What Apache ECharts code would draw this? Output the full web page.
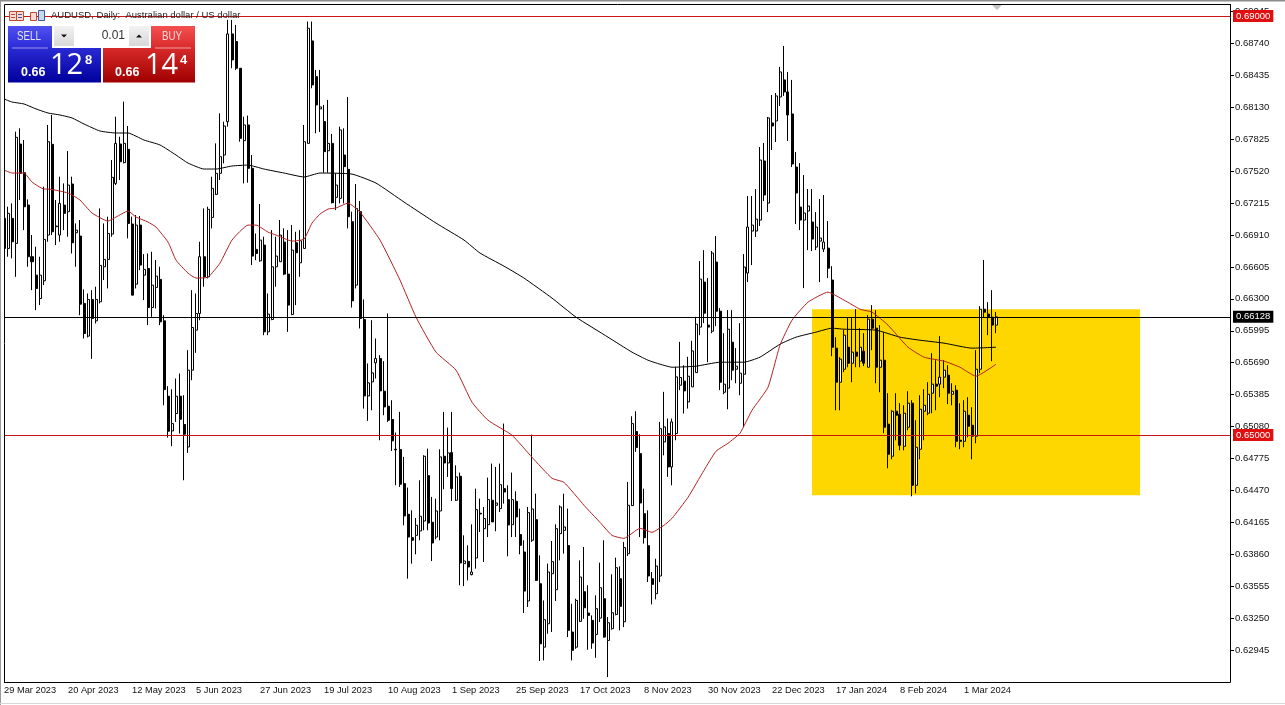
<!DOCTYPE html>
<html>
<head>
<meta charset="utf-8">
<title>AUDUSD Daily</title>
<script src="https://cdn.jsdelivr.net/npm/echarts@6/dist/echarts.min.js"></script>
<style>
html, body { margin: 0; padding: 0; background: #fff; overflow: hidden; }
#chartmain { width: 1285px; height: 705px; }
</style>
</head>
<body>
<div id="chartmain"></div>
<script>
// prices are kept in points, 1 point = 0.00001
var opens = [
	67068,66781,67068,66829,67778,67504,67195,66702,66526,66303,
	66472,66909,67775,66988,66909,67195,67132,67396,66931,66899,
	66256,65944,66294,66090,66272,66606,66676,66918,67402,67778,
	67600,67727,67014,66440,67004,66526,66590,66217,66409,66485,
	66090,65370,65039,65205,65370,65100,64886,65619,66001,66160,
	66702,66510,67077,67297,67498,67673,67991,68829,68756,68501,
	67810,67960,67546,66772,66663,66813,65985,66103,66606,66654,
	66842,66536,66151,66835,66644,66781,67784,68762,68421,68113,
	67992,67714,67784,67269,67259,67673,67536,67036,66431,67132,
	66103,65373,65507,65689,65730,65418,65275,65148,64864,64861,
	64536,64243,64020,64042,64084,64179,64612,64167,64026,64275,
	64797,64733,64832,64377,64606,63772,63794,63667,63826,64253,
	64106,64144,64377,64329,64297,64488,64383,64144,64367,64049,
	63883,63415,63995,64192,63580,62975,63198,63676,63523,64058,
	64090,63944,63119,62975,63221,63504,63300,63230,63096,63252,
	63437,63039,63151,63287,63628,63217,63867,64326,65033,64822,
	64249,63943,63628,63485,63654,64934,65014,64695,65014,65475,
	65514,65316,65459,65596,66030,66460,66049,65991,66651,66182,
	65408,65447,65886,65628,65494,65580,66546,66947,66947,67052,
	67616,67214,67979,67998,68227,68390,68275,68065,67558,67176,
	67052,67138,67033,66794,66851,66775,66784,66479,65829,65504,
	65628,65838,65685,65791,65705,65800,65647,66106,66020,65647,
	65714,65103,64797,65227,65198,64892,65074,65304,64520,64864,
	65227,65208,65399,65485,65485,65552,65571,65389,65428,64950,
	64940,65189,65093,64988,65628,66201,66154,66125,66049
];
var closes = [
	66781,67116,66845,67842,67498,67179,66702,66654,66399,66526,
	66867,67800,66940,66995,67211,67116,67386,66835,66956,66249,
	65969,66294,66112,66294,66619,66676,66924,67460,67784,67609,
	67784,67020,66335,67004,66622,66581,66217,66431,66517,66080,
	65434,65036,65109,65370,65150,65007,65619,66026,66160,66702,
	66510,67154,67355,67498,67657,67950,68829,68581,68501,67832,
	67960,67546,66708,66733,66861,65985,66154,66606,66708,66909,
	66536,66240,66765,66740,66854,67800,68883,68342,68151,68132,
	67705,67784,67218,67386,67912,67562,67084,66281,67163,66112,
	65373,65498,65593,65730,65421,65268,65141,64944,64858,64530,
	64227,64026,63995,64138,64224,64797,64160,63969,64275,64791,
	64733,64829,64488,64600,63778,63797,63740,63692,64288,64246,
	64202,64383,64170,64351,64526,64456,64141,64383,64218,63947,
	63510,64259,64294,63612,63007,63237,63692,63791,64106,64313,
	64122,63135,62944,63421,63644,63351,63278,63014,63342,63542,
	63071,63208,63303,63733,63364,63925,64329,65109,64880,64351,
	64020,63654,63574,63749,65061,65077,64695,65125,65555,65549,
	65421,65561,65803,66058,66488,66163,66030,66737,66182,65504,
	65485,66010,65619,65657,65590,66603,66985,67004,67061,67625,
	67291,68027,67950,68237,68466,68275,68055,67587,67310,67052,
	67119,67186,66870,66985,66880,66842,66593,65838,65504,65724,
	65953,65685,65791,65752,65838,65685,66106,66020,65647,65714,
	65074,64816,65227,65189,64902,65208,65304,64520,64883,65246,
	65284,65389,65485,65466,65552,65619,65399,65418,64940,64940,
	65227,65084,64988,65628,66201,66173,66125,66049,66128
];
var lows = [
	66717,66702,66686,66510,67243,66956,66606,66383,66192,66240,
	66431,66845,66909,66813,66845,66956,66893,66733,66606,66144,
	65921,65931,65727,66065,66256,66479,66399,66893,67386,67434,
	67593,66877,66335,66399,66574,66288,66049,66128,66208,66049,
	65284,64975,64893,65125,65014,64568,64829,65523,65784,66096,
	66415,66495,66972,67291,67434,67593,67944,68501,68485,67800,
	67402,67409,66622,66670,66654,65953,65953,66096,66415,66654,
	66526,65985,66144,66240,66510,66781,67784,68310,67880,67893,
	67504,67504,67211,67148,67211,67211,66972,66217,66399,66017,
	65252,65135,65236,65539,64950,65189,65125,64848,64520,64504,
	64138,63628,63772,63861,63995,64090,64090,63797,64004,63995,
	64482,64600,64370,64370,63565,63558,63612,63660,63724,64074,
	63788,64026,64170,64081,64265,64345,63842,64026,64026,63861,
	63300,63358,63979,63606,62842,62848,63103,63119,63415,63803,
	63867,63071,62848,62959,63214,63246,62950,62959,62873,63214,
	63065,62689,63141,63278,63135,63166,63845,64323,64839,64026,
	63963,63596,63383,63431,63596,64806,64600,64520,64950,65428,
	65205,65252,65459,65596,65953,66068,65695,65972,66039,65428,
	65389,65246,65523,65494,65380,65074,66460,66622,66890,66995,
	67233,67128,67721,67797,68141,68237,67807,67558,67014,66956,
	66402,66765,66756,66765,66460,66746,66498,65752,65236,65236,
	65600,65647,65504,65647,65647,65657,65647,65810,65494,65408,
	65017,64682,64768,64950,64854,64854,65045,64415,64443,64768,
	64950,65189,65208,65236,65361,65447,65294,65284,64883,64864,
	64883,64978,64768,64921,65590,66125,65953,65705,65972
];
var highs = [
	67179,67179,67211,67896,67928,67816,67249,66909,66797,66702,
	67370,67960,68055,67243,67466,67402,67711,67466,67020,67052,
	66390,66351,66383,66415,67163,67020,67084,67625,68039,67848,
	68183,67950,67084,67100,67090,66727,66733,66749,66670,66606,
	66144,65466,65437,65539,65587,65380,65810,66383,66351,66845,
	67163,67179,67466,67784,68071,67991,68963,68963,68915,68501,
	68039,68049,67673,66924,67205,66893,66351,66956,66893,67052,
	66972,66956,67004,66940,66956,67960,68947,68947,68485,68485,
	68151,68199,67874,67498,67944,67928,68227,67132,67396,67234,
	66294,65683,66096,65921,65762,65705,66160,65332,65023,65221,
	64791,64498,64281,64208,64568,64807,64870,64409,64393,64864,
	65221,65071,65221,64711,64641,64042,63947,64147,64488,64393,
	64313,64593,64727,64695,64727,65109,64520,64641,64463,64297,
	63995,64313,65004,64440,63851,63421,63772,63988,64147,64329,
	64440,64297,63389,63437,63803,63931,63565,63278,63469,63781,
	63995,63262,63670,63829,63746,63979,64552,65179,65227,65007,
	64488,64281,63692,63819,65125,65412,65157,65157,65650,65889,
	65666,65746,65899,66128,66660,66765,66498,66756,66899,66211,
	65972,66192,66192,65829,66068,66727,67281,67281,67348,67749,
	67788,68036,68246,68265,68514,68714,68466,68390,67702,67596,
	67482,67348,67348,67128,67253,67291,67042,66612,65934,65743,
	66001,66125,66125,66201,66020,65972,66144,66240,66192,66049,
	65982,65399,65236,65399,65304,65284,65418,65332,65141,65380,
	65437,65504,65781,65714,65944,65714,65666,65494,65475,65304,
	65332,65361,65265,65810,66230,66670,66268,66383,66173
];

var slowIndex = [0,2,5,8,11,14,17,20,24,28,31,35,39,43,46,50,53,57,61,65,70,75,79,87,93,100,108,115,119,125,130,137,143,151,157,161,164,167,173,179,185,189,194,198,203,207,210,218,224,229,235,242,248];
var slowValues = [68208,68179,68160,68113,68074,68055,68027,67969,67902,67883,67883,67816,67769,67673,67596,67539,67539,67568,67577,67539,67501,67463,67501,67491,67405,67224,67023,66861,66737,66612,66498,66307,66125,65934,65791,65714,65676,65647,65657,65695,65695,65743,65867,65934,65982,66020,66010,66001,65934,65905,65877,65829,65838];
var fastIndex = [0,2,5,7,10,11,16,19,22,26,28,31,33,36,38,41,43,46,48,51,54,57,61,63,66,68,72,75,77,79,81,83,86,89,94,99,103,108,113,117,121,127,132,137,140,145,149,152,155,159,162,165,167,171,175,178,181,184,187,191,194,197,201,206,210,214,217,221,226,230,235,239,243,248];
var fastValues = [67530,67501,67501,67415,67348,67348,67310,67243,67119,67042,67081,67138,67081,67033,66985,66842,66670,66545,66498,66507,66641,66861,67004,67004,66937,66909,66851,66870,67023,67109,67157,67167,67214,67128,66861,66479,66125,65791,65619,65313,65141,64998,64787,64587,64548,64329,64166,64042,64013,64109,64071,64138,64204,64405,64663,64845,64921,65017,65236,65456,65858,66096,66268,66364,66288,66201,66173,66049,65838,65743,65705,65647,65561,65676];

var dateLabels = ['29 Mar 2023','20 Apr 2023','12 May 2023','5 Jun 2023','27 Jun 2023','19 Jul 2023','10 Aug 2023','1 Sep 2023','25 Sep 2023','17 Oct 2023','8 Nov 2023','30 Nov 2023','22 Dec 2023','17 Jan 2024','8 Feb 2024','1 Mar 2024'];
var tickPrices = [0.69045,0.6874,0.68435,0.6813,0.67825,0.6752,0.67215,0.6691,0.66605,0.663,0.65995,0.6569,0.65385,0.6508,0.64775,0.6447,0.64165,0.6386,0.63555,0.6325,0.62945];
var levelPrices = [0.69, 0.65];
var lastPrice = 0.66128;
var zonePrices = [0.66201, 0.64424];
var zoneCandles = [202, 284];
var priceRange = [0.62642, 0.691146];

var labelStep = 16;
var slots = 307; // empty room to the right of the last candle

var categories = [];
for (var i = 0; i < slots; i++) {
	categories.push(i % labelStep === 0 && dateLabels[i / labelStep] ? dateLabels[i / labelStep] : '');
}
var candles = opens.map(function(o, k) {
	return [o / 1e5, closes[k] / 1e5, lows[k] / 1e5, highs[k] / 1e5];
});
function pairs(index, values) {
	return index.map(function(n, k) {
		return [n, values[k] / 1e5];
	});
}
function isLabelled(idx) {
	return idx % labelStep === 0 && idx / labelStep < dateLabels.length;
}

var axisFont = 'Liberation Sans';
var red = '#c81414';
var G = echarts.graphic;

function vgrad(a, b) {
	return new G.LinearGradient(0, 0, 0, 1, [{ offset: 0, color: a }, { offset: 1, color: b }]);
}
function box(x, y, w, h, fill, z) {
	return { type: 'rect', z: z || 20, silent: true, shape: { x: x, y: y, width: w, height: h }, style: { fill: fill } };
}
function txt(s, x, y, font, fill, align) {
	return { type: 'text', z: 22, silent: true, style: { text: s, x: x, y: y, font: font, fill: fill, align: align || 'left', verticalAlign: 'middle' } };
}
// condensed button caption
function caption(s, x, y, fill) {
	var t = txt(s, x, y, '12.5px "Liberation Sans"', fill, 'center');
	t.scaleX = 0.78;
	t.originX = x;
	t.originY = y;
	return t;
}
function line(x1, y1, x2, y2, color) {
	return { type: 'line', z: 21, silent: true, shape: { x1: x1, y1: y1, x2: x2, y2: y2 }, style: { stroke: color, lineWidth: 1 } };
}
function tri(points, fill) {
	return { type: 'polygon', z: 22, silent: true, shape: { points: points }, style: { fill: fill } };
}

// terminal furniture round the plot
var furniture = [
	box(0, 0, 4, 705, '#fff', 19),
	box(0, 0, 1285, 4, '#fff', 19),
	box(0, 0, 1, 705, '#9a9a9a'),
	box(0, 0, 1285, 1.5, '#8c8c8c'),
	box(0, 703, 1285, 1, '#d8d8d8'),
	line(4.5, 4.5, 1230.5, 4.5, '#000'),
	line(4.5, 4.5, 4.5, 682.5, '#000'),
	tri([[992, 5], [1002, 5], [997, 10]], '#c4c4c4'),

	// chart icons
	box(10, 11, 13, 10, '#f8dcd4'),
	line(9.5, 11.5, 23.5, 11.5, '#c04a36'),
	line(9.5, 20.5, 23.5, 20.5, '#c04a36'),
	line(9.5, 11.5, 9.5, 20.5, '#c04a36'),
	line(23.5, 11.5, 23.5, 20.5, '#c04a36'),
	line(16.5, 11.5, 16.5, 20.5, '#c04a36'),
	line(11, 14.5, 15, 14.5, '#c04a36'),
	line(11, 17.5, 15, 17.5, '#c04a36'),
	line(18, 14.5, 22, 14.5, '#3c5a9c'),
	line(18, 17.5, 22, 17.5, '#3c5a9c'),
	box(30, 12, 7, 9, '#f8dcd4'),
	box(38, 10, 6, 11, '#c8d8ec'),
	line(30.5, 12.5, 36.5, 12.5, '#c04a36'),
	line(30.5, 20.5, 36.5, 20.5, '#c04a36'),
	line(30.5, 12.5, 30.5, 20.5, '#c04a36'),
	line(36.5, 12.5, 36.5, 20.5, '#c04a36'),
	line(38.5, 10.5, 44.5, 10.5, '#3c5a9c'),
	line(38.5, 20.5, 44.5, 20.5, '#3c5a9c'),
	line(38.5, 10.5, 38.5, 20.5, '#3c5a9c'),
	line(44.5, 10.5, 44.5, 20.5, '#3c5a9c'),
	txt('AUDUSD, Daily:  Australian dollar / US dollar', 51, 15.5, '9.5px "Liberation Sans"', '#222'),

	// one click trading panel
	box(8, 26, 44, 23, vgrad('#5050f0', '#2a2ad8')),
	caption('SELL', 29, 36.5, '#e4e4f4'),
	line(12, 48, 48, 48, '#9a9ae8'),
	box(8, 48, 93, 34.5, vgrad('#2a2ad4', '#00009c')),
	txt('0.66', 21, 72.5, 'bold 12.5px "Liberation Sans"', '#fff'),
	txt('12', 50, 66, '29px "Open Sans"', '#fff'),
	txt('8', 85, 60, 'bold 13px "Liberation Sans"', '#fff'),

	box(151, 26, 44, 23, vgrad('#f45050', '#d82a2a')),
	caption('BUY', 172, 36.5, '#f4d8d8'),
	line(155, 48, 191, 48, '#f0a0a0'),
	box(103, 48, 92, 34.5, vgrad('#d82a2a', '#a00000')),
	txt('0.66', 115, 72.5, 'bold 12.5px "Liberation Sans"', '#fff'),
	txt('14', 145, 66, '29px "Open Sans"', '#fff'),
	txt('4', 180, 60, 'bold 13px "Liberation Sans"', '#fff'),

	box(54, 26, 20, 20, vgrad('#f2f2f2', '#d8d8d8')),
	box(74, 26, 55, 20, '#fff'),
	box(129, 26, 20, 20, vgrad('#f2f2f2', '#d8d8d8')),
	txt('0.01', 125, 36, '12px "Liberation Sans"', '#333', 'right'),
	tri([[61, 34.5], [67, 34.5], [64, 37.5]], '#111'),
	tri([[136, 37.5], [142, 37.5], [139, 34.5]], '#111')
];

function level(value, color, badge) {
	return {
		yAxis: value,
		lineStyle: { color: color, width: 1, type: 'solid' },
		label: {
			show: true,
			position: 'end',
			distance: 3,
			formatter: value.toFixed(5),
			color: '#fff',
			fontFamily: axisFont,
			fontSize: 9.5,
			backgroundColor: badge,
			padding: [1, 3, 1, 3]
		}
	};
}

var option = {
	animation: false,
	backgroundColor: '#fff',
	graphic: { elements: furniture },
	grid: { left: 2, top: 4, width: 1228, height: 678 },
	xAxis: {
		type: 'category',
		data: categories,
		boundaryGap: true,
		axisLine: { lineStyle: { color: '#000', width: 1 } },
		axisTick: {
			alignWithLabel: true,
			length: 4,
			lineStyle: { color: '#000' },
			interval: function(idx) { return isLabelled(idx); }
		},
		axisLabel: {
			interval: function(idx) { return isLabelled(idx); },
			align: 'left',
			margin: 4,
			color: '#111',
			fontFamily: axisFont,
			fontSize: 9.3
		},
		splitLine: { show: false }
	},
	yAxis: {
		type: 'value',
		position: 'right',
		min: priceRange[0],
		max: priceRange[1],
		axisLine: { show: true, lineStyle: { color: '#000', width: 1 } },
		axisTick: { show: true, length: 4, lineStyle: { color: '#000' }, customValues: tickPrices },
		axisLabel: {
			customValues: tickPrices,
			margin: 5,
			color: '#111',
			fontFamily: axisFont,
			fontSize: 9.5,
			formatter: function(v) { return v.toFixed(5); }
		},
		splitLine: { show: false }
	},
	series: [ {
		name: 'AUDUSD',
		type: 'candlestick',
		z: 2,
		barWidth: 2.5,
		data: candles,
		itemStyle: {
			color: '#fff',
			color0: '#000',
			borderColor: '#000',
			borderColor0: '#000',
			borderWidth: 1
		},
		markArea: {
			silent: true,
			z: 1,
			itemStyle: { color: '#ffd700', opacity: 1 },
			data: [ [ { xAxis: zoneCandles[0], yAxis: zonePrices[0] }, { xAxis: zoneCandles[1], yAxis: zonePrices[1] } ] ]
		}
	}, {
		name: 'MA slow',
		type: 'line',
		z: 3,
		showSymbol: false,
		smooth: 0.15,
		data: pairs(slowIndex, slowValues),
		lineStyle: { color: '#000', width: 1 },
		markLine: {
			silent: true,
			symbol: 'none',
			precision: 5,
			z: 5,
			data: [
				level(levelPrices[0], red, '#e01010'),
				level(levelPrices[1], red, '#e01010'),
				level(lastPrice, '#000', '#000')
			]
		}
	}, {
		name: 'MA fast',
		type: 'line',
		z: 3,
		showSymbol: false,
		smooth: 0.15,
		data: pairs(fastIndex, fastValues),
		lineStyle: { color: '#b42222', width: 1 }
	} ]
};

var myChart = echarts.init(document.getElementById('chartmain'), null, { renderer: 'canvas' });
myChart.setOption(option);
</script>
</body>
</html>
